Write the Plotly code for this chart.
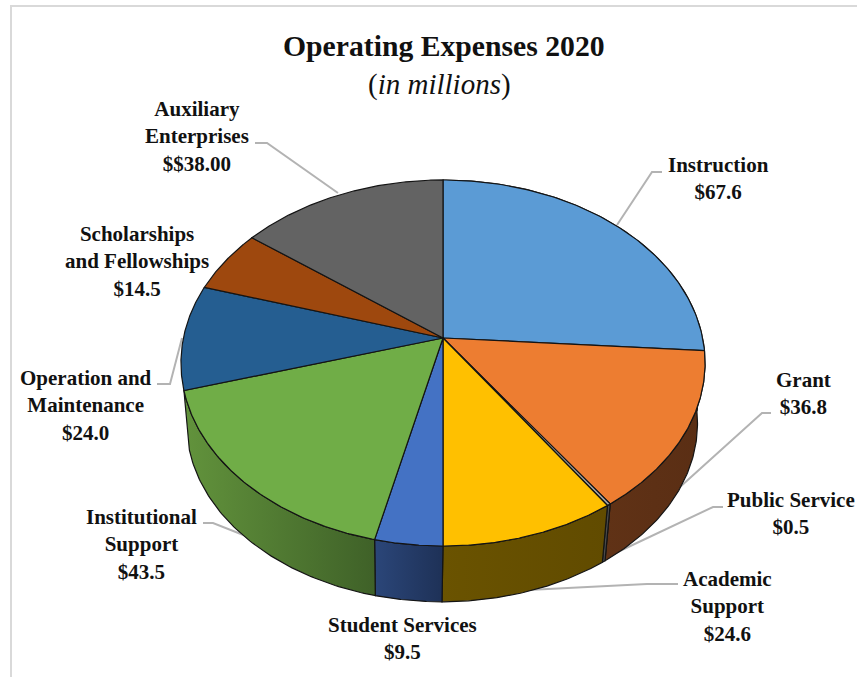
import numpy as np
import plotly.graph_objects as go

# ---- data ----
categories = ["Instruction", "Grant", "Public Service", "Academic Support", "Student Services",
              "Institutional Support", "Operation and Maintenance",
              "Scholarships and Fellowships", "Auxiliary Enterprises"]
values = [67.6, 36.8, 0.5, 24.6, 9.5, 43.5, 24.0, 14.5, 38.0]
top_colors = ["#5B9BD5", "#ED7D31", "#A5A5A5", "#FFC000", "#4472C4", "#70AD47", "#255E91", "#9E480E", "#636363"]
side_left = ["#5B9BD5", "#603216", "#4a4a4a", "#6A5300", "#2B4679", "#62933C", "#1A4266", "#6E3209", "#454545"]
side_right = ["#5B9BD5", "#5A2E14", "#4a4a4a", "#614B00", "#1E3157", "#3F6128", "#1A4266", "#6E3209", "#454545"]
label_texts = ["Instruction<br>$67.6", "Grant<br>$36.8", "Public Service<br>$0.5",
               "Academic<br>Support<br>$24.6", "Student Services<br>$9.5",
               "Institutional<br>Support<br>$43.5", "Operation and<br>Maintenance<br>$24.0",
               "Scholarships<br>and Fellowships<br>$14.5", "Auxiliary<br>Enterprises<br>$$38.00"]

# ---- layout of the projected pie (pixels) ----
W, H = 857, 677
CX, CY = 443.0, 338.0
R, S, K = 259.6, 179.6, 0.1366   # perspective projection of the disc
DROP, SHRINK, SHIFT = 61.0, 0.975, -1.0  # bottom rim of the disc
LABEL_POS = [(718, 178), (803, 393), (791, 513), (727, 606), (402, 638),
             (141, 544), (86, 405), (137, 261), (197, 136)]
LEADERS = [[(662, 172), (652, 172), (617, 225)],
           [(771, 413), (762, 413), (680, 487)],
           [(723, 507), (713, 507), (605, 558)],
           [(678, 584), (647, 584), (528, 590)],
           None,
           [(203, 523), (213, 523), (251, 538)],
           [(157, 384), (170, 384), (182, 338)],
           None,
           [(255, 143), (267, 143), (338, 193)]]


def rim(theta, bottom=False):
    u, v = np.sin(theta), np.cos(theta)
    d = 1 + K * v
    x, y = R * u / d, -S * v / d
    if bottom:
        return CX + SHIFT + x * SHRINK, CY + DROP + y * SHRINK
    return CX + x, CY + y


edges = np.concatenate([[0], np.cumsum(values)]) / np.sum(values) * 2 * np.pi
fig = go.Figure()
OUTLINE = dict(color="#141414", width=1.2)

# side walls (only the slices whose outer edge faces the viewer)
for i, name in enumerate(categories):
    a, b = edges[i], edges[i + 1]
    if b <= np.pi / 2 or a >= 1.4 * np.pi:
        continue
    t = np.linspace(a, b, 80)
    x1, y1 = rim(t)
    x2, y2 = rim(t[::-1], bottom=True)
    fig.add_trace(go.Scatter(
        x=np.r_[x1, x2, x1[0]], y=np.r_[y1, y2, y1[0]], mode="lines", fill="toself",
        line=OUTLINE, name=name, hoverinfo="skip", showlegend=False,
        fillgradient=dict(type="horizontal",
                          colorscale=[[0, side_left[i]], [1, side_right[i]]])))

# top face
for i, name in enumerate(categories):
    t = np.linspace(edges[i], edges[i + 1], 120)
    x, y = rim(t)
    fig.add_trace(go.Scatter(
        x=np.r_[CX, x, CX], y=np.r_[CY, y, CY], mode="lines", fill="toself",
        fillcolor=top_colors[i], line=OUTLINE, name=name, showlegend=False,
        hovertemplate=f"{name}: ${values[i]}M<extra></extra>"))

FONT = "Liberation Serif"
ann = [dict(x=p[0], y=p[1], text=f"<b>{txt}</b>", showarrow=False, xanchor="center", yanchor="middle",
            align="center", font=dict(family=FONT, size=21, color="#111"))
       for p, txt in zip(LABEL_POS, label_texts)]
ann.append(dict(x=443.5, y=46, text="<b>Operating Expenses 2020</b>", showarrow=False,
                font=dict(family=FONT, size=29.7, color="#111")))
ann.append(dict(x=439, y=84, text="(<i>in millions</i>)", showarrow=False,
                font=dict(family=FONT, size=29, color="#111")))

shapes = [dict(type="path", path="M" + " L".join(f"{x},{y}" for x, y in pts),
               line=dict(color="#b3b3b3", width=2), layer="below")
          for pts in LEADERS if pts]
shapes.append(dict(type="path", path=f"M11,{H} L11,6 L{W},6",
                   line=dict(color="#d9d9d9", width=2), layer="below"))

fig.update_layout(
    width=W, height=H, margin=dict(l=0, r=0, t=0, b=0), autosize=False,
    paper_bgcolor="white", plot_bgcolor="white", showlegend=False,
    xaxis=dict(range=[0, W], visible=False, fixedrange=True),
    yaxis=dict(range=[H, 0], visible=False, fixedrange=True),
    annotations=ann, shapes=shapes)

fig.write_html("out.html", config={"displayModeBar": False},
               post_script="document.body.style.margin='0';document.body.style.overflow='hidden';")
